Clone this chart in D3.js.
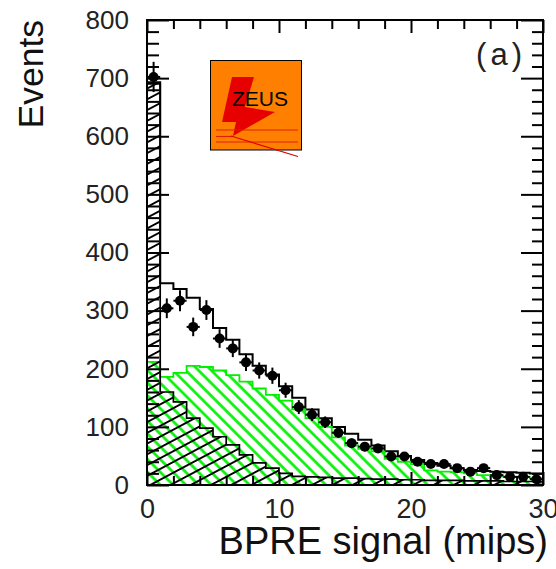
<!DOCTYPE html>
<html>
<head>
<meta charset="utf-8">
<script src="https://cdn.jsdelivr.net/npm/d3@7"></script>
<style>
  html, body { margin: 0; padding: 0; background: #fff; }
  svg { display: block; }
  text { font-family: "Liberation Sans", Arial, Helvetica, sans-serif; }
</style>
</head>
<body>
<script>
// Lower edges of the 1-mip bins of the BPRE signal
const binLow = [0,1,2,3,4,5,6,7,8,9,10,11,12,13,14,15,16,17,18,19,20,21,22,23,24,25,26,27,28,29];
const binWidth = 1;

// Measured events per bin and their statistical errors
const dataEvents = [702,304,317,272,301,252,235,211,197,188,163,134,121,108,90,72,66,63,49,49,40,36,36,29,23,29,17,14,14,10];
const dataErrors = [26,17,18,16,17,16,15,15,14,14,13,12,11,10,9,8,8,8,7,7,6,6,6,5,5,5,4,4,4,3];

// Monte Carlo expectations: total (open), photon signal (green hatch), background (black hatch)
const mcTotal      = [693,347,337,322,303,270,250,225,205,190,170,150,130,115,100,88,78,68,58,50,43,38,33,29,26,24,23,22,21,20];
const mcPhoton     = [212,186,193,205,203,197,189,178,166,155,145,130,115,100,82,68,62,58,45,40,36,25,23,22,20,17,15,14,14,12];
const mcBackground = [690,160,143,115,98,83,69,52,38,29,20,15,14,13,12,12,11,10,10,9,9,8,8,8,7,7,7,6,6,6];

// Axis ticks
const xMajorTicks = [0,10,20,30];
const yMajorTicks = [0,100,200,300,400,500,600,700,800];

const W = 556, H = 569;
const svg = d3.select("body").append("svg").attr("width", W).attr("height", H);

const x = d3.scaleLinear().domain([0, 30]).range([147, 543]);
const y = d3.scaleLinear().domain([0, 800]).range([485, 20]);

const defs = svg.append("defs");
defs.append("clipPath").attr("id", "plot")
  .append("rect").attr("x", x(0)).attr("y", y(800))
  .attr("width", x(30) - x(0)).attr("height", y(0) - y(800));

// green "\\\" hatching
const gp = defs.append("pattern").attr("id", "hatchGreen")
  .attr("patternUnits", "userSpaceOnUse").attr("width", 10).attr("height", 9)
  .attr("patternTransform", "rotate(45)");
gp.append("line").attr("x1", -1).attr("x2", 11).attr("y1", 4.5).attr("y2", 4.5)
  .attr("stroke", "#00f000").attr("stroke-width", 2.6);

// black "///" hatching
const bp = defs.append("pattern").attr("id", "hatchBlack")
  .attr("patternUnits", "userSpaceOnUse").attr("width", 10).attr("height", 9.5)
  .attr("patternTransform", "rotate(-28)");
bp.append("line").attr("x1", -1).attr("x2", 11).attr("y1", 4.75).attr("y2", 4.75)
  .attr("stroke", "#000").attr("stroke-width", 1.9);

function steps(vals) {
  const pts = binLow.map((b, i) => ({ x: b, v: vals[i] }));
  pts.push({ x: binLow[binLow.length - 1] + binWidth, v: vals[vals.length - 1] });
  return pts;
}

const area = d3.area()
  .x(d => x(d.x)).y0(y(0)).y1(d => y(d.v))
  .curve(d3.curveStepAfter);
const outline = d3.line()
  .x(d => x(d.x)).y(d => y(d.v))
  .curve(d3.curveStepAfter);

const plot = svg.append("g").attr("clip-path", "url(#plot)");

// total MC, open histogram
plot.append("path")
  .attr("d", outline([{ x: 0, v: 0 }, ...steps(mcTotal)]))
  .attr("fill", "none").attr("stroke", "#000").attr("stroke-width", 2);

// photon MC, green hatched
plot.append("path").attr("d", area(steps(mcPhoton)))
  .attr("fill", "url(#hatchGreen)");
plot.append("path")
  .attr("d", outline([{ x: 0, v: 0 }, ...steps(mcPhoton)]))
  .attr("fill", "none").attr("stroke", "#00f000").attr("stroke-width", 1.8);

// background MC, black hatched
plot.append("path").attr("d", area(steps(mcBackground)))
  .attr("fill", "url(#hatchBlack)");
plot.append("path")
  .attr("d", outline([{ x: 0, v: 0 }, ...steps(mcBackground)]))
  .attr("fill", "none").attr("stroke", "#000").attr("stroke-width", 1.7);

// data points with error bars
const pts = svg.append("g").attr("clip-path", "url(#plot)");
binLow.forEach((b, i) => {
  const cx = x(b + binWidth / 2), v = dataEvents[i], e = dataErrors[i];
  pts.append("line").attr("x1", cx).attr("x2", cx)
    .attr("y1", y(v - e)).attr("y2", y(v + e))
    .attr("stroke", "#000").attr("stroke-width", 2);
  pts.append("line").attr("x1", x(b)).attr("x2", x(b + binWidth))
    .attr("y1", y(v)).attr("y2", y(v))
    .attr("stroke", "#000").attr("stroke-width", 2);
  pts.append("circle").attr("cx", cx).attr("cy", y(v)).attr("r", 5).attr("fill", "#000");
});

// axes with inward ticks on all four sides
function styleAxis(g) {
  g.select(".domain").remove();
  g.selectAll(".tick line").attr("stroke", "#000").attr("stroke-width", 2);
  g.selectAll(".tick text").attr("fill", "#222");
}
const yMinor = d3.range(0, 801, 20).filter(v => v % 100 !== 0);
const xMinor = d3.range(0, 31, 2).filter(v => v % 10 !== 0);

svg.append("g").attr("transform", `translate(${x(0)},0)`)
  .call(d3.axisLeft(y).tickValues(yMajorTicks).tickSize(-22).tickPadding(18).tickFormat(d3.format("d")))
  .call(styleAxis)
  .call(g => g.selectAll(".tick text").attr("font-size", 26).attr("font-family", "Liberation Sans, Arial, sans-serif"));
svg.append("g").attr("transform", `translate(${x(0)},0)`)
  .call(d3.axisLeft(y).tickValues(yMinor).tickSize(-12).tickFormat(""))
  .call(styleAxis);
svg.append("g").attr("transform", `translate(${x(30)},0)`)
  .call(d3.axisRight(y).tickValues(yMajorTicks).tickSize(-22).tickFormat(""))
  .call(styleAxis);
svg.append("g").attr("transform", `translate(${x(30)},0)`)
  .call(d3.axisRight(y).tickValues(yMinor).tickSize(-11).tickFormat(""))
  .call(styleAxis);

svg.append("g").attr("transform", `translate(0,${y(0)})`)
  .call(d3.axisBottom(x).tickValues(xMajorTicks).tickSize(-13).tickPadding(14).tickFormat(d3.format("d")))
  .call(styleAxis)
  .call(g => g.selectAll(".tick text").attr("font-size", 27).attr("font-family", "Liberation Sans, Arial, sans-serif"));
svg.append("g").attr("transform", `translate(0,${y(0)})`)
  .call(d3.axisBottom(x).tickValues(xMinor).tickSize(-9).tickFormat(""))
  .call(styleAxis);
svg.append("g").attr("transform", `translate(0,${y(800)})`)
  .call(d3.axisTop(x).tickValues(xMajorTicks).tickSize(-13).tickFormat(""))
  .call(styleAxis);
svg.append("g").attr("transform", `translate(0,${y(800)})`)
  .call(d3.axisTop(x).tickValues(xMinor).tickSize(-9).tickFormat(""))
  .call(styleAxis);

// frame
svg.append("rect")
  .attr("x", x(0)).attr("y", y(800))
  .attr("width", x(30) - x(0)).attr("height", y(0) - y(800))
  .attr("fill", "none").attr("stroke", "#000").attr("stroke-width", 2);

// titles
svg.append("text")
  .attr("transform", "translate(43,20) rotate(-90)")
  .attr("text-anchor", "end").attr("font-size", 35.5).attr("fill", "#111")
  .text("Events");
svg.append("text")
  .attr("x", 548).attr("y", 554).attr("text-anchor", "end")
  .attr("font-size", 38).attr("fill", "#111")
  .text("BPRE signal (mips)");
svg.append("text")
  .attr("x", 526).attr("y", 65).attr("text-anchor", "end")
  .attr("font-size", 31).attr("letter-spacing", 4).attr("fill", "#222")
  .text("(a)");

// ZEUS logo
const logo = svg.append("g");
logo.append("rect").attr("x", 210.5).attr("y", 60.5).attr("width", 91).attr("height", 89.5)
  .attr("fill", "#ff8000").attr("stroke", "#000").attr("stroke-width", 1);
logo.append("polygon")
  .attr("points", "232,77 254,77 245,107 275,112 233,136 236,122 222,122")
  .attr("fill", "#e60000");
logo.append("line").attr("x1", 216).attr("x2", 298).attr("y1", 130).attr("y2", 130)
  .attr("stroke", "#e02000").attr("stroke-width", 1.2);
logo.append("line").attr("x1", 216).attr("x2", 298).attr("y1", 142).attr("y2", 142)
  .attr("stroke", "#e02000").attr("stroke-width", 1.2);
logo.append("line").attr("x1", 216).attr("x2", 233).attr("y1", 136.5).attr("y2", 136.5)
  .attr("stroke", "#e02000").attr("stroke-width", 1.2);
logo.append("line").attr("x1", 231).attr("x2", 298).attr("y1", 136).attr("y2", 156.5)
  .attr("stroke", "#e00000").attr("stroke-width", 1.2);
logo.append("text").attr("x", 232).attr("y", 106)
  .attr("font-size", 21).attr("fill", "#000")
  .text("ZEUS");
</script>
</body>
</html>
